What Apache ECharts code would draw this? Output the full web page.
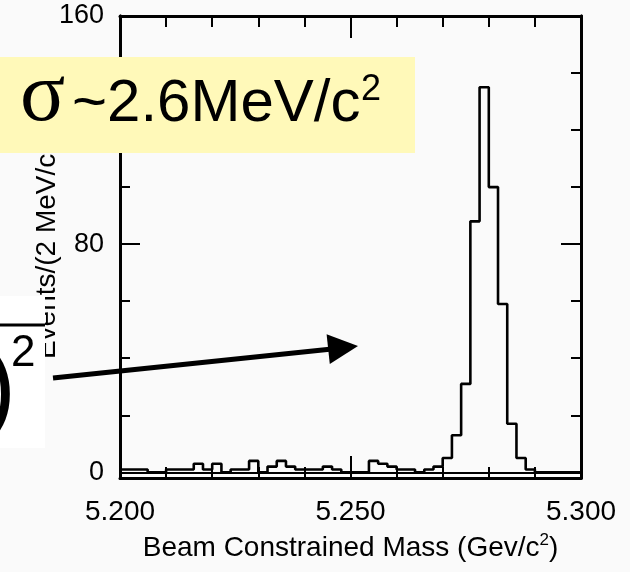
<!DOCTYPE html>
<html><head><meta charset="utf-8">
<script src="https://cdn.jsdelivr.net/npm/echarts@6/dist/echarts.min.js"></script>
<style>html,body{margin:0;padding:0;background:#fafafa}#c{width:630px;height:572px}</style>
</head><body><div id="c"></div>
<script>
// Histogram: 2 MeV/c^2 bins from 5.200 to 5.300 GeV/c^2
const binLow = 5.200;
const binHigh = 5.300;
const binWidth = 0.002;
const counts = [1,1,1,0,0,1,1,1,3,1,
                3,0,1,1,4,0,2,4,2,1,
                1,1,2,1,0,0,0,4,3,2,
                1,1,0,1,2,5,13,31,88,135,
                100,59,17,5,1,0,0,0,0,0];
const yMajorTicks = [0, 80, 160];
const yMinorTicks = [20, 40, 60, 100, 120, 140];
const xTitle = 'Beam Constrained Mass (Gev/c{sup|2})';
const yTitle = 'Events/(2 MeV/c{sup|2})';
const sigmaSymbol = 'σ';
const sigmaText = '~2.6MeV/c';
const sigmaSup = '2';
const fracDigit = '2';

const FONT = '"Liberation Sans", Arial, Helvetica, sans-serif';
const histData = counts.map((c, k) => [binLow + k * binWidth, c]);
histData.push([binHigh, counts[counts.length - 1]]);

const chart = echarts.init(document.getElementById('c'), null, {renderer: 'canvas'});
const axLine = {show: true, onZero: false, lineStyle: {color: '#000', width: 3}};
const yMin = -2, yMax = 160;
const titleStyle = {color: '#000', fontSize: 28, fontFamily: FONT, lineHeight: 32,
  rich: {sup: {fontSize: 17, verticalAlign: 'top', color: '#000', fontFamily: FONT}}};
function yAx(pos, ticks, len, labels, name) {
  const a = {
    type: 'value', position: pos, min: yMin, max: yMax,
    axisLine: axLine,
    splitLine: {show: false},
    axisTick: {show: true, inside: true, length: len, customValues: ticks, lineStyle: {color: '#000', width: 2}},
    axisLabel: labels ? {show: true, customValues: labels, margin: 16, color: '#000', fontSize: 27, fontFamily: FONT} : {show: false}
  };
  if (name) {
    a.name = name; a.nameLocation = 'middle'; a.nameGap = 57; a.nameMoveOverlap = false;
    a.nameTextStyle = titleStyle;
  }
  return a;
}
function xAx(pos, labels, name) {
  const a = {
    type: 'value', position: pos, min: binLow, max: binHigh, interval: 0.05,
    axisLine: axLine, splitLine: {show: false},
    axisTick: {show: true, inside: true, length: 22, lineStyle: {color: '#000', width: 2}},
    minorTick: {show: true, splitNumber: 5, length: 11, lineStyle: {color: '#000', width: 2}},
    axisLabel: labels ? {show: true, margin: 20, color: '#000', fontSize: 28, fontFamily: FONT,
      formatter: v => v.toFixed(3)} : {show: false}
  };
  if (name) {
    a.name = name; a.nameLocation = 'middle'; a.nameGap = 54;
    a.nameTextStyle = titleStyle;
  }
  return a;
}

chart.setOption({
  animation: false,
  backgroundColor: '#fafafa',
  grid: {left: 120, right: 49, top: 16, bottom: 94},
  xAxis: [xAx('bottom', true, xTitle), xAx('top', false)],
  yAxis: [
    yAx('left', yMajorTicks, 20, yMajorTicks, yTitle),
    yAx('left', yMinorTicks, 10, null),
    yAx('right', yMajorTicks, 20, null),
    yAx('right', yMinorTicks, 10, null)
  ],
  series: [{
    type: 'line', step: 'end', data: histData, showSymbol: false, symbol: 'none',
    lineStyle: {color: '#000', width: 2.6},
    markLine: {silent: true, symbol: 'none', label: {show: false},
      lineStyle: {color: '#000', width: 2, type: 'solid'}, data: [{yAxis: 0}]}
  }],
  graphic: [
    {type: 'rect', z: 100, shape: {x: 0, y: 57, width: 415, height: 96}, style: {fill: '#fff9b9'}},
    {type: 'text', z: 101, x: 20, y: 140, style: {text: sigmaSymbol, fontSize: 84, fontFamily: '"Liberation Serif", "Times New Roman", serif', fill: '#000', verticalAlign: 'bottom'}},
    {type: 'text', z: 101, x: 72, y: 134, style: {text: sigmaText, fontSize: 60, fontFamily: FONT, fill: '#000', verticalAlign: 'bottom'}},
    {type: 'text', z: 101, x: 361, y: 108, style: {text: sigmaSup, fontSize: 36, fontFamily: FONT, fill: '#000', verticalAlign: 'bottom'}},
    {type: 'rect', z: 100, shape: {x: 0, y: 296, width: 45, height: 152}, style: {fill: '#ffffff'}},
    {type: 'line', z: 101, shape: {x1: 0, y1: 325, x2: 45, y2: 325}, style: {stroke: '#000', lineWidth: 3}},
    {type: 'text', z: 101, x: 11, y: 376, style: {text: fracDigit, fontSize: 44, fontFamily: FONT, fill: '#000', verticalAlign: 'bottom'}},
    {type: 'text', z: 101, x: 16, y: 392, style: {text: ')', fontSize: 100, fontFamily: FONT, fill: '#000', align: 'right', verticalAlign: 'middle'}},
    {type: 'line', z: 101, shape: {x1: 53, y1: 378, x2: 332, y2: 349}, style: {stroke: '#000', lineWidth: 5}},
    {type: 'polygon', z: 101, shape: {points: [[358, 346], [326.6, 334.2], [329.8, 364]]}, style: {fill: '#000'}}
  ]
});
</script></body></html>
